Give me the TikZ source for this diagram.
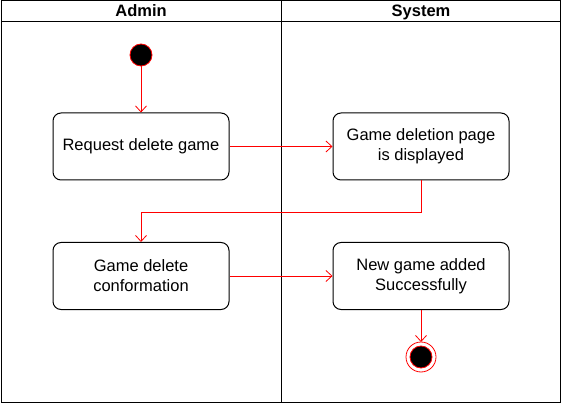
\documentclass[tikz,border=0pt]{standalone}
\usepackage{fontspec}
\setmainfont{Liberation Sans}
\usetikzlibrary{arrows.meta}
\tikzset{
    action/.style={draw, line width=1pt, rounded corners=8pt, minimum width=176pt, minimum height=67pt, align=center, font=\fontsize{16.5}{20}\selectfont},
    lane/.style={font=\bfseries\fontsize{16.5}{20}\selectfont, text height=12pt, text depth=3pt},
    flow/.style={draw=red, line width=0.8pt, -{Straight Barb[length=6pt,width=11pt]}},
}
\begin{document}
\begin{tikzpicture}[x=1pt,y=-1pt]
    \useasboundingbox (0,0) rectangle (562,403);
    \draw[line width=1pt] (1,1) rectangle (560,402);
    \draw[line width=1pt] (1,22) -- (560,22);
    \draw[line width=1pt] (281,1) -- (281,402);
    \node[lane] (admin) at (141,12) {Admin};
    \node[lane] (system) at (421,12) {System};
    \filldraw[fill=black, draw=red, line width=0.8pt] (141,55) circle[radius=11pt];
    \coordinate (start) at (141,66);
    \node[action] (request) at (141,146.5) {Request delete game};
    \node[action] (page) at (421,146.5) {Game deletion page\\is displayed};
    \node[action] (confirm) at (141,276) {Game delete\\conformation};
    \node[action] (added) at (421,276) {New game added\\Successfully};
    \draw[red, line width=0.8pt] (421,357) circle[radius=15pt];
    \filldraw[fill=black, draw=red, line width=0.8pt] (421,357) circle[radius=11pt];
    \coordinate (final) at (421,342);
    \draw[flow] (start) -- (request.north);
    \draw[flow] (request) -- (page);
    \draw[flow] (page.south) -- (421,212) -- (141,212) -- (confirm.north);
    \draw[flow] (confirm) -- (added);
    \draw[flow] (added.south) -- (final);
\end{tikzpicture}
\end{document}
